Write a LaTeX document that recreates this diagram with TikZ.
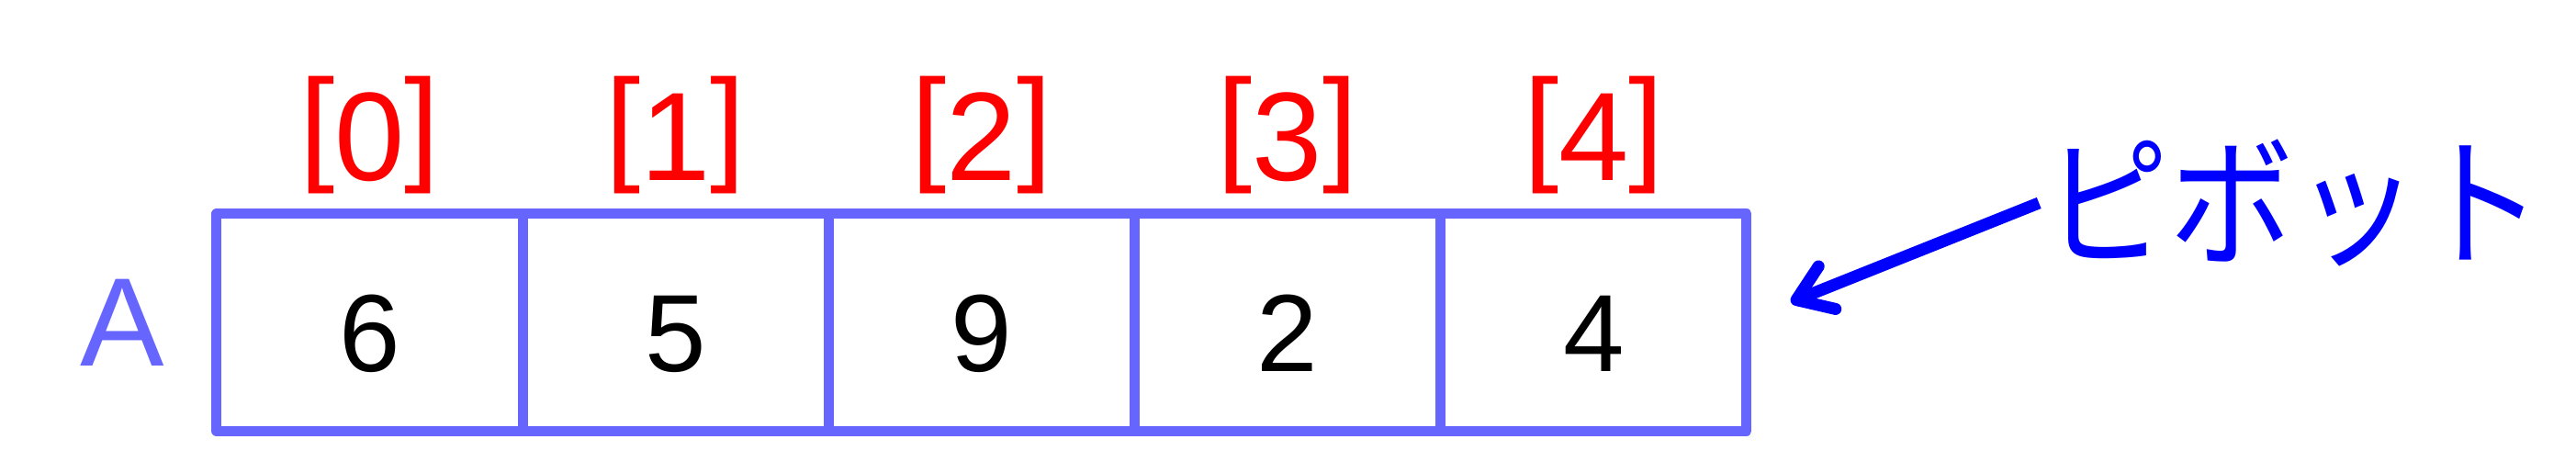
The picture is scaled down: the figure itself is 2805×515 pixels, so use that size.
\documentclass[tikz,border=0pt]{standalone}
\usepackage{fontspec}
\setmainfont{Liberation Sans}
\newfontfamily\jpfont{Noto Sans CJK JP}
\usetikzlibrary{arrows.meta, positioning}
\definecolor{boxblue}{RGB}{102,102,255}
\newcommand{\rbr}[1]{\raisebox{0.14cm}{#1}}

\begin{document}
\begin{tikzpicture}[
      x=0.01cm, y=0.01cm,
      cell/.style = {draw=boxblue, line width=0.11cm, line join=round,
                     outer sep=0pt, inner sep=0pt,
                     minimum width=3.33cm, minimum height=2.36cm,
                     font=\fontsize{34}{40}\selectfont,
                     text height=1.06cm, text depth=0pt},
      idx/.style  = {text=red, inner sep=0pt,
                     font=\fontsize{39}{46}\selectfont},
      arr/.style  = {-{Straight Barb[round, length=0.36cm, width=0.5cm]},
                     line width=0.13cm, blue},
    ]
    \useasboundingbox (0,0) rectangle (2805,515);

    % array cells
    \node[cell] (c0) at (402.5,164) {6};
    \node[cell, right=0pt of c0] (c1) {5};
    \node[cell, right=0pt of c1] (c2) {9};
    \node[cell, right=0pt of c2] (c3) {2};
    \node[cell, right=0pt of c3] (c4) {4};

    \node[text=boxblue, inner sep=0pt, font=\fontsize{39}{46}\selectfont,
          left=0.56cm of c0] (name) {A};

    % index labels
    \foreach \i in {0,...,4}
      \node[idx, anchor=base] (i\i) at ([yshift=0.36cm]c\i.north)
        {\rbr{[}\i\rbr{]}};

    % pivot marker
    \node[text=blue, inner sep=0pt,
          font=\jpfont\fontsize{44}{50}\selectfont]
      (pivot) at (2498,294) {\scalebox{0.876}[1]{ピボット}};
    \coordinate (tip) at (1950,186);
    \draw[arr] ([xshift=-0.06cm]pivot.west) -- (tip);

  \end{tikzpicture}
\end{document}
